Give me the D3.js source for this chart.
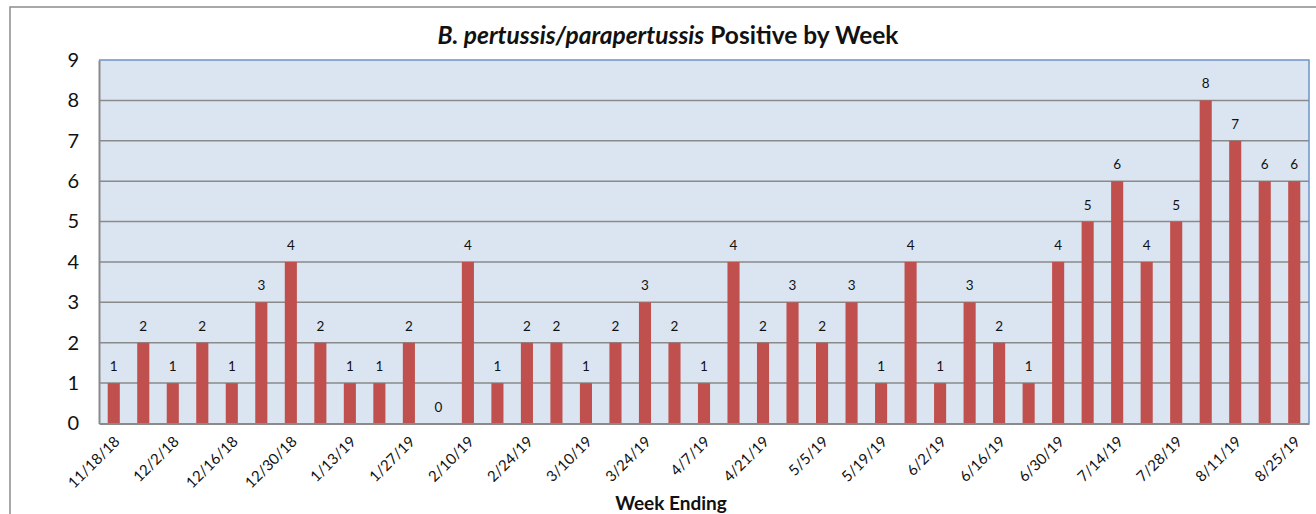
<!DOCTYPE html>
<html><head><meta charset="utf-8">
<script src="https://cdn.jsdelivr.net/npm/d3@7"></script>
<style>body{margin:0;background:#fff;} svg{display:block;font-family:Lato,"Open Sans",sans-serif;}</style>
</head><body>
<svg id="c" width="1316" height="514"></svg>
<script>
const weeks = ["11/18/18","11/25/18","12/2/18","12/9/18","12/16/18","12/23/18","12/30/18","1/6/19","1/13/19","1/20/19","1/27/19","2/3/19","2/10/19","2/17/19","2/24/19","3/3/19","3/10/19","3/17/19","3/24/19","3/31/19","4/7/19","4/14/19","4/21/19","4/28/19","5/5/19","5/12/19","5/19/19","5/26/19","6/2/19","6/9/19","6/16/19","6/23/19","6/30/19","7/7/19","7/14/19","7/21/19","7/28/19","8/4/19","8/11/19","8/18/19","8/25/19"];
const positives = [1,2,1,2,1,3,4,2,1,1,2,0,4,1,2,2,1,2,3,2,1,4,2,3,2,3,1,4,1,3,2,1,4,5,6,4,5,8,7,6,6];
const yTicks = [0,1,2,3,4,5,6,7,8,9];

const svg = d3.select("#c");
const L = 99, R = 1309, T = 60, B = 423.5;

// outer chart border
svg.append("rect").attr("x",10).attr("y",7).attr("width",1320).attr("height",520)
  .attr("fill","none").attr("stroke","#8c8c8c").attr("stroke-width",1.5);

const x = d3.scaleBand().domain(weeks).range([L,R]).paddingInner(0.59).paddingOuter(0.295);
const y = d3.scaleLinear().domain([0,9]).range([B,T]);

svg.append("rect").attr("x",L).attr("y",T).attr("width",R-L).attr("height",B-T).attr("fill","#dbe5f1");

// gridlines
svg.append("g").selectAll("line").data(yTicks.filter(d=>d>0 && d<9)).join("line")
  .attr("x1",L).attr("x2",R).attr("y1",d=>y(d)).attr("y2",d=>y(d))
  .attr("stroke","#8a8a8a").attr("stroke-width",1.5);

// plot border top/right
svg.append("path").attr("d",`M${L},${T}H${R}V${B}`).attr("fill","none").attr("stroke","#6f93c6").attr("stroke-width",1.5);

// bars
svg.append("g").selectAll("rect").data(positives).join("rect")
  .attr("x",(d,i)=>x(weeks[i])).attr("width",x.bandwidth())
  .attr("y",d=>y(d)).attr("height",d=>y(0)-y(d)).attr("fill","#c0504d");

// data labels
svg.append("g").selectAll("text").data(positives).join("text")
  .attr("x",(d,i)=>x(weeks[i])+x.bandwidth()/2).attr("y",d=>y(d)-12)
  .attr("text-anchor","middle").attr("font-size",13.5).attr("fill","#111").text(d=>d);

// y axis
const ya = svg.append("g").attr("transform",`translate(${L},0)`)
  .call(d3.axisLeft(y).tickValues(yTicks).tickSize(0).tickPadding(20).tickFormat(d3.format("d")));
ya.select(".domain").attr("stroke","#8a8a8a").attr("stroke-width",2);
ya.selectAll("text").attr("font-size",20).attr("font-family","Lato,sans-serif").attr("fill","#111");

// x axis
const xa = svg.append("g").attr("transform",`translate(0,${B})`)
  .call(d3.axisBottom(x).tickValues(weeks.filter((d,i)=>i%2===0)).tickSize(0).tickPadding(0));
xa.select(".domain").attr("stroke","#8a8a8a").attr("stroke-width",2);
xa.selectAll("text").attr("font-size",15).attr("font-family","Lato,sans-serif").attr("fill","#111")
  .attr("text-anchor","end").attr("dy",null).attr("y",0)
  .attr("transform","translate(7,19) rotate(-45)");

// title
const title = svg.append("text").attr("x",668).attr("y",44).attr("text-anchor","middle")
  .attr("font-size",24.5).attr("font-weight","bold").attr("fill","#111");
title.append("tspan").attr("font-style","italic").text("B. pertussis/parapertussis");
title.append("tspan").text(" Positive by Week");

svg.append("text").attr("x",671).attr("y",510).attr("text-anchor","middle")
  .attr("font-size",19).attr("font-weight","bold").attr("fill","#111").text("Week Ending");
</script>
</body></html>
